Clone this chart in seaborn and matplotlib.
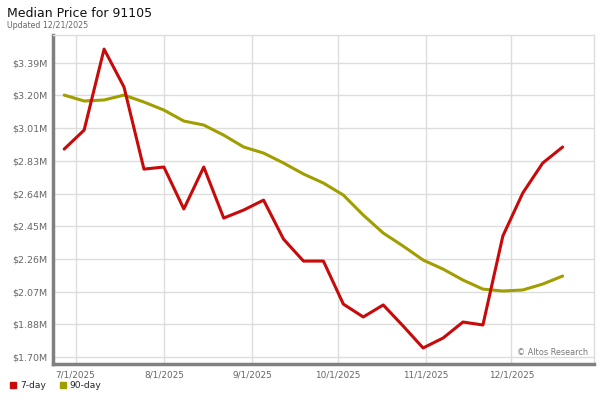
import matplotlib
matplotlib.use("Agg")
import matplotlib.dates as mdates
import matplotlib.pyplot as plt
import numpy as np
import pandas as pd
import seaborn as sns
from matplotlib.lines import Line2D

# weekly points, 6/27/2025 .. 12/19/2025
dates = pd.date_range("2025-06-27", periods=26, freq="7D")
price_7day = [2.894, 3.003, 3.468, 3.250, 2.779, 2.791, 2.550, 2.791, 2.498, 2.544,
              2.601, 2.377, 2.251, 2.251, 2.004, 1.930, 1.999, 1.878, 1.752, 1.809,
              1.901, 1.884, 2.395, 2.642, 2.814, 2.906]
price_90day = [3.204, 3.170, 3.176, 3.204, 3.164, 3.118, 3.055, 3.032, 2.974, 2.906,
               2.871, 2.814, 2.751, 2.699, 2.630, 2.515, 2.412, 2.337, 2.257, 2.205,
               2.142, 2.090, 2.079, 2.085, 2.119, 2.165]
ytick_labels = ["$1.70M", "$1.88M", "$2.07M", "$2.26M", "$2.45M",
                "$2.64M", "$2.83M", "$3.01M", "$3.20M", "$3.39M"]
month_ticks = pd.to_datetime(["2025-07-01", "2025-08-01", "2025-09-01",
                              "2025-10-01", "2025-11-01", "2025-12-01"])

RED = "#c80a0a"
OLIVE = "#a09e00"

df = pd.DataFrame({"date": dates, "7-day": price_7day, "90-day": price_90day})

sns.set_style("white")
fig = plt.figure(figsize=(6, 4), dpi=100)
ax = fig.add_axes([0.088, 0.09, 0.902, 0.8225])

sns.lineplot(data=df, x="date", y="90-day", color=OLIVE, lw=2.2, ax=ax)
sns.lineplot(data=df, x="date", y="7-day", color=RED, lw=2.2, ax=ax)

yticks = np.linspace(1.70, 3.39, 10)
ax.set_yticks(yticks)
ax.set_yticklabels(ytick_labels)
ax.set_ylim(1.660, 3.549)
ax.set_xticks(month_ticks)
ax.xaxis.set_major_formatter(
    plt.FuncFormatter(lambda v, _: f"{mdates.num2date(v).month}/1/2025"))
ax.set_xlim(pd.Timestamp("2025-06-23"), pd.Timestamp("2025-12-30"))
ax.set_xlabel("")
ax.set_ylabel("")

ax.grid(True, color="#dddddd", lw=1)
ax.set_axisbelow(True)
for side in ["top", "right"]:
    ax.spines[side].set_color("#dddddd")
    ax.spines[side].set_linewidth(1)
for side in ["left", "bottom"]:
    ax.spines[side].set_color("#808080")
    ax.spines[side].set_linewidth(2.5)
ax.tick_params(axis="y", length=0, labelsize=6.8, labelcolor="#666666", pad=4)
ax.tick_params(axis="x", length=0, labelsize=6.4, labelcolor="#666666", pad=5)

ax.text(0.99, 0.022, "© Altos Research", transform=ax.transAxes,
        ha="right", va="bottom", fontsize=5.9, color="#777777")

fig.text(0.012, 0.967, "Median Price for 91105", fontsize=9, color="#111111",
         va="center")
fig.text(0.012, 0.936, "Updated 12/21/2025", fontsize=5.7, color="#666666",
         va="center")

handles = [Line2D([], [], marker="s", ls="", color=RED, markersize=3.8, label="7-day"),
           Line2D([], [], marker="s", ls="", color=OLIVE, markersize=3.8, label="90-day")]
fig.legend(handles=handles, loc="center left", bbox_to_anchor=(0.0, 0.035), ncol=2,
           frameon=False, fontsize=6.6, handletextpad=0.3, columnspacing=1.3,
           handlelength=1.0)

fig.savefig("out.png", dpi=100)
